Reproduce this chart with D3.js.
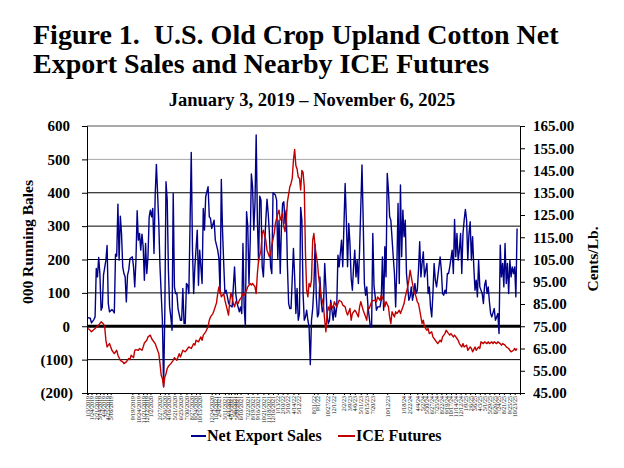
<!DOCTYPE html>
<html>
<head>
<meta charset="utf-8">
<script src="https://cdn.jsdelivr.net/npm/d3@7"></script>
<style>

html, body {
  margin: 0;
  padding: 0;
  background: #fff;
  overflow: hidden;
}

text {
  font-family: "Liberation Serif", "Times New Roman", serif;
  font-weight: bold;
  fill: #000;
}

.title { font-size: 28px; white-space: pre; }
.subtitle { font-size: 18.5px; }
.axis text { font-size: 15px; }
.axis path, .axis line { stroke: #000; }
.xlab text { font-size: 6px; font-weight: normal; fill: #111; }
.legend text { font-size: 16px; }

</style>
</head>
<body>
<script>

// weekly reports, week 0 = first report of 2019
var startDate = new Date(2019, 0, 3),
    endDate = new Date(2025, 10, 6);

// old crop net export sales, 000 running bales
var salesWeek = [0,2,3,5,6,7,8,9,10,11,12,13,15,16,17,18,20,21,22,23,24,25,26,27,28,29,30,31,32,33,34,35,37,38,39,40,
  41,42,43,44,45,46,47,48,49,50,51,52,53,54,55,56,57,58,59,60,62,63,64,65,66,67,68,69,70,71,72,73,74,75,77,78,79,80,
  81,82,83,84,86,87,88,89,91,92,93,95,96,97,98,100,101,102,103,105,106,108,109,110,111,112,113,114,115,117,118,120,
  122,123,124,126,127,128,129,130,131,132,133,134,135,136,137,138,139,140,141,142,143,144,145,146,147,148,149,150,
  151,152,153,154,156,157,158,159,160,161,162,163,164,165,166,167,168,169,171,172,173,174,175,176,177,178,179,180,
  181,182,183,184,185,186,187,188,189,190,191,192,193,194,195,196,197,198,199,200,201,202,204,205,206,207,208,209,
  210,211,212,214,215,216,217,218,219,220,221,222,223,224,225,226,228,229,230,231,232,233,234,235,236,237,238,239,
  240,241,243,244,245,246,247,248,249,250,251,252,254,255,256,257,258,259,260,261,262,263,264,265,266,267,268,269,
  270,271,272,273,274,275,276,277,278,279,280,282,283,284,285,286,287,288,289,290,291,293,294,295,296,297,298,299,
  300,301,303,304,305,306,307,308,309,310,311,312,313,314,315,316,317,318,319,320,321,322,323,324,325,326,328,329,
  330,331,332,333,334,335,336,338,339,340,341,342,343,344,345,346,347,348,349,350,351,352,353,354,355,356,357];
var salesValue = [26,24,10,20,28,173,148,206,158,48,58,153,198,242,68,43,50,46,40,216,210,366,198,330,278,178,158,148,73,153,168,203,208,178,118,198,
  346,258,278,228,276,238,138,248,158,208,328,348,328,353,218,393,485,398,308,178,18,-182,38,433,378,168,58,28,-12,398,118,98,100,53,18,18,113,8,
  8,128,123,98,521,233,98,178,288,123,228,128,353,288,388,418,328,323,293,318,258,228,203,98,440,288,188,98,108,70,63,58,
  178,98,70,43,58,38,248,58,-2,343,300,128,248,456,418,288,368,573,318,193,390,378,178,148,238,318,381,338,
  278,178,158,400,393,378,203,318,158,298,368,373,308,348,178,68,53,53,233,148,38,113,18,38,356,318,98,18,
  28,48,18,-2,-115,18,53,118,246,88,28,38,148,78,43,58,188,118,33,8,18,78,18,58,28,58,213,178,
  218,258,178,428,318,178,308,248,143,108,178,228,148,198,128,228,483,318,128,93,118,58,28,-2,-2,278,120,88,
  48,58,58,78,208,48,238,148,458,408,328,318,208,158,58,178,368,128,423,208,348,268,318,158,118,78,88,118,
  78,98,128,98,108,168,253,148,188,223,148,188,98,118,58,28,98,188,138,118,148,208,168,98,93,108,98,158,
  158,178,228,158,320,208,278,198,228,278,158,278,318,350,318,198,278,313,198,268,178,108,138,88,198,118,98,68,
  123,138,98,118,73,38,28,53,18,28,38,-22,243,148,188,118,248,128,188,98,198,148,178,158,178,88,293];

// nearby ICE futures, cents per lb.
var iceWeek = [0,2,3,6,9,11,13,14,15,16,18,20,22,24,25,27,29,30,32,34,35,36,38,39,40,42,43,45,46,47,49,50,52,53,54,56,
  57,59,60,61,62,63,64,65,66,67,69,71,72,74,76,77,79,81,82,84,86,88,89,90,92,94,95,96,98,100,101,102,104,105,107,108,
  109,110,111,113,114,115,117,118,119,120,121,122,123,125,126,128,129,130,132,133,135,136,137,139,140,141,142,144,
  145,146,148,149,151,152,153,155,156,158,159,160,162,163,164,165,166,168,169,170,171,172,173,174,175,176,177,178,
  179,180,181,182,183,184,185,186,187,188,189,191,192,193,194,195,196,197,198,199,200,201,202,204,205,207,208,209,
  211,212,214,215,216,218,219,220,222,223,225,226,227,229,230,232,233,234,236,237,239,240,241,243,244,246,247,248,
  250,251,252,253,255,256,257,259,260,262,263,264,266,267,268,269,270,271,272,273,274,275,276,277,278,279,280,282,
  283,284,286,287,289,290,291,293,294,295,297,298,300,301,302,304,305,307,308,309,311,312,313,315,316,318,319,320,
  322,323,325,326,327,329,330,332,333,334,336,337,338,340,341,343,344,345,347,348,350,351,352,354,355,356,357];
var icePrice = [74,73.2,72.5,74,75.5,77,76,74.7,68.7,65.7,67.2,64.2,62.7,64.2,62,59.7,59,58.2,59,60.5,60,62,60.9,64.2,64.5,64.2,65,64.2,65.7,67.5,68.7,70.2,71,69.5,68.7,67.2,
  65.7,62.7,58.2,53,51.5,48,52.2,53.7,56,57,58.2,59.7,60.9,59.7,62.7,61.2,64.2,63.5,64.2,65.7,65,67.2,66.5,68.7,68,70.2,68.7,71,72.5,74.7,77.7,79.2,80.7,82.2,85.5,89.7,
  92.7,91.2,88.2,89.7,86.7,84.5,80,86,90,88,85.2,83.7,86,85.2,86.7,88.2,89.7,89,91.2,92.7,94.2,93.5,94.2,92.7,89.7,98.7,104.7,109.2,
  116.7,118.2,113.7,109.2,106.2,107.7,111.5,116.7,121.2,125.7,127.2,122.7,125.7,119.7,117.5,122.7,131,137.7,139.2,141.5,149.7,154.5,147.2,145.7,142,141.5,136.2,145,
  144.2,137.7,107.7,91.2,88.2,94.2,92.7,95.7,113.7,116.7,110.7,103.2,97.2,92.7,88.2,86.7,83.7,77.7,72.5,80.7,83.7,82.2,85.2,83,86,83.7,85.2,86.7,
  86,84.5,83.7,81.5,80,83,77.7,80.7,82.2,81.5,79.2,83.7,86,82.2,80.7,77.7,83.7,83,86,86.5,86.7,86,88.2,86.7,89,86.7,83.7,86,
  83.7,79.2,76.2,81.5,79.2,81.5,80.7,82.2,80.7,83.7,85.2,88.2,92.7,95.7,100.2,97.2,94.2,91.2,89.7,88.2,86,85.2,82.2,79.2,76.2,77.7,74.7,73.2,
  74,71.7,72.5,70.2,68.7,68,67.2,68.7,68,70.2,71.7,73.2,71.7,71,71.7,70.2,71,69.5,68.7,67.2,65.7,67.2,65.7,66.5,64.2,65.7,65,63.5,
  65.7,64.2,65.7,65,68,67.2,68,67.2,68,67.2,68,67.2,68,67.2,68,67.2,66.5,67.2,66.5,65.7,65,64.2,63.5,64.2,65,64.2,65];

// date labels along the bottom
var tickDates = ['1/3/2019','1/24/2019','2/21/2019','3/14/2019','4/4/2019','4/25/2019','5/16/2019',
  '9/19/2019','10/24/2019','11/21/2019','12/12/2019','1/2/2020','2/27/2020','3/26/2020','4/16/2020','5/21/2020',
  '6/25/2020','7/30/2020','8/27/2020','9/24/2020','10/15/2020',
  '12/24/2020','1/14/2021','2/4/2021','3/11/2021','4/1/2021','4/15/2021','5/6/2021','5/20/2021','6/10/2021',
  '7/22/2021','8/19/2021','9/16/2021','10/21/2021','11/18/2021','12/16/2021','1/13/22','2/10/22','3/10/22','4/14/22','5/12/22',
  '8/11/22','9/1/22','10/27/22','12/1/22',
  '2/2/23','3/9/23','4/6/23','5/11/23','6/15/23','7/20/23','10/12/23','1/18/24','2/22/24',
  '4/4/24','5/2/24','5/30/24','6/27/24','7/25/24','8/22/24','9/19/24','10/17/24','11/14/24','12/12/24',
  '1/9/25','2/6/25','3/6/25','4/3/25','5/1/25','5/29/25','6/26/25','7/24/25','8/21/25','9/25/25','10/23/25'];

var salesTicks = [600, 500, 400, 300, 200, 100, 0, -100, -200];
var iceTicks = [165, 155, 145, 135, 125, 115, 105, 95, 85, 75, 65, 55, 45];

var w = 624,
    h = 468,
    plotLeft = 87,
    plotRight = 520,
    plotTop = 126,
    plotBottom = 393;

var svg = d3.select('body').append('svg')
  .attr('width', w)
  .attr('height', h);

function weekDate(n) { return d3.timeDay.offset(startDate, 7 * n); }
function parseLabel(s) {
  var p = s.split('/'), y = +p[2];
  if (y < 100) y += 2000;
  return new Date(y, +p[0] - 1, +p[1]);
}

var x = d3.scaleTime()
  .domain([d3.timeDay.offset(startDate, -5), d3.timeDay.offset(endDate, 17)])
  .range([plotLeft, plotRight]);
var yL = d3.scaleLinear().domain([-200, 600]).range([plotBottom, plotTop]);
var yR = d3.scaleLinear().domain([45, 165]).range([plotBottom, plotTop]);

// titles
svg.append('text').attr('class', 'title').attr('x', 33).attr('y', 44)
  .text('Figure 1.  U.S. Old Crop Upland Cotton Net');
svg.append('text').attr('class', 'title').attr('x', 33).attr('y', 73)
  .text('Export Sales and Nearby ICE Futures');
svg.append('text').attr('class', 'subtitle').attr('x', 312).attr('y', 106)
  .attr('text-anchor', 'middle')
  .text('January 3, 2019 \u2013 November 6, 2025');

// gridlines
svg.append('g').selectAll('line')
  .data(salesTicks.filter(function(d){ return d > -200 && d < 600; }))
  .enter().append('line')
    .attr('x1', plotLeft).attr('x2', plotRight)
    .attr('y1', function(d){ return yL(d); })
    .attr('y2', function(d){ return yL(d); })
    .attr('stroke', function(d){ return d == 500 ? '#a8a8a8' : '#000'; })
    .attr('stroke-width', function(d){ return d == 0 ? 3 : 1; });

svg.append('line')
  .attr('x1', plotLeft).attr('x2', plotRight).attr('y1', plotTop).attr('y2', plotTop)
  .attr('stroke', '#555');

// series
var salesLine = d3.line()
  .x(function(d){ return x(weekDate(d[0])); })
  .y(function(d){ return yL(d[1]); });
var iceLine = d3.line()
  .x(function(d){ return x(weekDate(d[0])); })
  .y(function(d){ return yR(d[1]); });

svg.append('path')
  .datum(d3.zip(salesWeek, salesValue))
  .attr('d', salesLine)
  .attr('fill', 'none')
  .attr('stroke', '#000088')
  .attr('stroke-width', 1.4)
  .attr('stroke-linejoin', 'round');

svg.append('path')
  .datum(d3.zip(iceWeek, icePrice))
  .attr('d', iceLine)
  .attr('fill', 'none')
  .attr('stroke', '#c00000')
  .attr('stroke-width', 1.4)
  .attr('stroke-linejoin', 'round');

// left axis
var gL = svg.append('g').attr('class', 'axis').attr('transform', 'translate(' + plotLeft + ',0)');
gL.call(d3.axisLeft(yL).tickValues(d3.range(-200, 601, 10)).tickSize(3).tickFormat(''));
gL.call(d3.axisLeft(yL).tickValues(salesTicks).tickSize(5).tickPadding(12)
  .tickFormat(function(d){ return d < 0 ? '(' + (-d) + ')' : d; }));
gL.selectAll('.tick text').attr('dx', function(d){ return d < 0 ? 3 : 0; });

// right axis
var gR = svg.append('g').attr('class', 'axis').attr('transform', 'translate(' + plotRight + ',0)');
gR.call(d3.axisRight(yR).tickValues(d3.range(45, 166, 1)).tickSize(3).tickFormat(''));
gR.call(d3.axisRight(yR).tickValues(iceTicks).tickSize(5).tickPadding(8).tickFormat(d3.format('.2f')));

// bottom axis with date labels
var gX = svg.append('g').attr('class', 'axis xlab').attr('transform', 'translate(0,' + plotBottom + ')');
gX.call(d3.axisBottom(x).tickValues(tickDates.map(parseLabel)).tickSize(2).tickPadding(1)
  .tickFormat(function(d, i){ return tickDates[i]; }));
gX.selectAll('.tick text')
  .attr('transform', 'rotate(-90)')
  .attr('text-anchor', 'end')
  .attr('x', -3)
  .attr('y', 0)
  .attr('dy', '0.32em');

// axis titles
svg.append('text')
  .attr('transform', 'translate(33,242) rotate(-90)')
  .attr('text-anchor', 'middle')
  .style('font-size', '15.5px')
  .text('000 Running Bales');
svg.append('text')
  .attr('transform', 'translate(598,259) rotate(-90)')
  .attr('text-anchor', 'middle')
  .style('font-size', '15.5px')
  .text('Cents/Lb.');

// legend
var legend = svg.append('g').attr('class', 'legend');
legend.append('line').attr('x1', 191).attr('x2', 206).attr('y1', 436).attr('y2', 436)
  .attr('stroke', '#000088').attr('stroke-width', 2);
legend.append('text').attr('x', 207).attr('y', 441).text('Net Export Sales');
legend.append('line').attr('x1', 338).attr('x2', 355).attr('y1', 436).attr('y2', 436)
  .attr('stroke', '#c00000').attr('stroke-width', 2);
legend.append('text').attr('x', 356).attr('y', 441).text('ICE Futures');

</script>
</body>
</html>
